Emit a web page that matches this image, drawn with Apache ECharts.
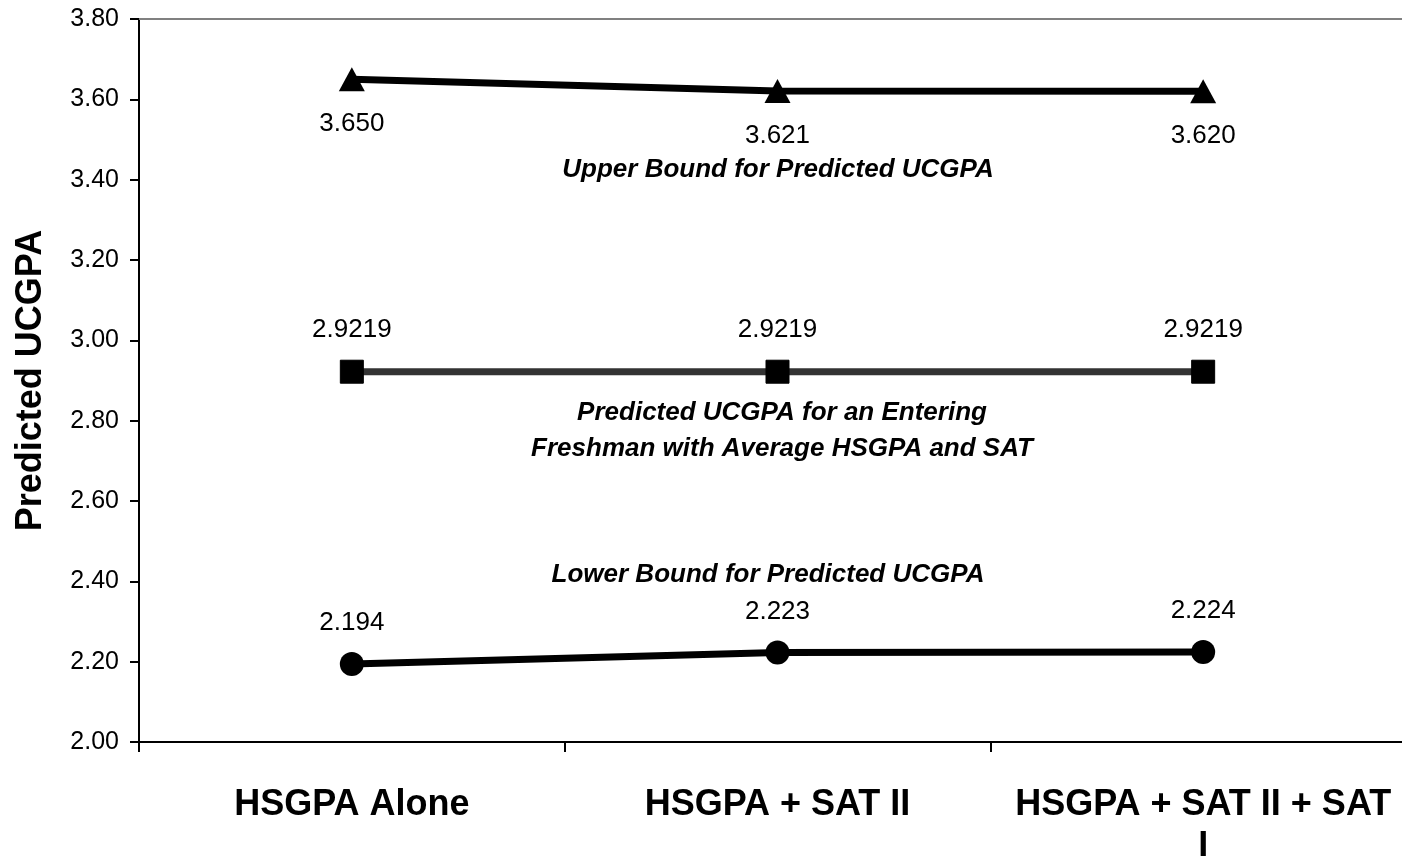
<!DOCTYPE html>
<html>
<head>
<meta charset="utf-8">
<script src="https://cdn.jsdelivr.net/npm/echarts@6/dist/echarts.min.js"></script>
<style>
html,body{margin:0;padding:0;background:#fff;}
#chart{width:1402px;height:856px;}
</style>
</head>
<body>
<div id="chart"></div>
<script>
var categories = ['HSGPA Alone', 'HSGPA + SAT II', 'HSGPA + SAT II + SAT\nI'];
var upperBound = [3.650, 3.621, 3.620];
var predicted = [2.9219, 2.9219, 2.9219];
var lowerBound = [2.194, 2.223, 2.224];
var upperLabels = ['3.650', '3.621', '3.620'];
var predictedLabels = ['2.9219', '2.9219', '2.9219'];
var lowerLabels = ['2.194', '2.223', '2.224'];
var yTicks = { min: 2.0, max: 3.8, interval: 0.2 };

var FONT = "'Liberation Sans', Arial, sans-serif";
var chart = echarts.init(document.getElementById('chart'));

function labelFmt(arr) {
  return function (p) { return arr[p.dataIndex]; };
}

var annoStyle = { fontFamily: FONT, fontSize: 26, fontWeight: 'bold', fontStyle: 'italic', fill: '#000', align: 'center', verticalAlign: 'middle' };

chart.setOption({
  animation: false,
  backgroundColor: '#fff',
  grid: { left: 139, top: 19, width: 1277, height: 723, containLabel: false, outerBoundsMode: 'none' },
  xAxis: [{
    type: 'category',
    data: categories,
    boundaryGap: true,
    axisLine: { lineStyle: { color: '#000', width: 2 } },
    axisTick: { show: true, length: 10, lineStyle: { color: '#000', width: 2 } },
    axisLabel: { interval: 0, hideOverlap: false, fontFamily: FONT, fontSize: 36, fontWeight: 'bold', color: '#000', margin: 42, lineHeight: 42 },
    splitLine: { show: false }
  }, {
    type: 'category',
    position: 'top',
    data: categories,
    axisLine: { lineStyle: { color: '#808080', width: 2 } },
    axisTick: { show: false },
    axisLabel: { show: false },
    splitLine: { show: false }
  }],
  yAxis: {
    type: 'value',
    min: yTicks.min,
    max: yTicks.max,
    interval: yTicks.interval,
    name: 'Predicted UCGPA',
    nameLocation: 'middle',
    nameGap: 90,
    nameTextStyle: { fontFamily: FONT, fontSize: 36, fontWeight: 'bold', color: '#000' },
    axisLine: { show: true, lineStyle: { color: '#000', width: 2 } },
    axisTick: { show: true, length: 9, lineStyle: { color: '#000', width: 2 } },
    axisLabel: { fontFamily: FONT, fontSize: 25, color: '#000', margin: 20, formatter: function (v) { return v.toFixed(2); } },
    splitLine: { show: false }
  },
  series: [{
    name: 'Upper Bound',
    type: 'line',
    data: upperBound,
    symbol: 'triangle',
    symbolSize: [26, 24],
    lineStyle: { color: '#000', width: 7 },
    itemStyle: { color: '#000' },
    label: { show: true, position: 'bottom', distance: 20, formatter: labelFmt(upperLabels), fontFamily: FONT, fontSize: 26, color: '#000' }
  }, {
    name: 'Predicted',
    type: 'line',
    data: predicted,
    symbol: 'rect',
    symbolSize: 23,
    lineStyle: { color: '#333333', width: 7 },
    itemStyle: { color: '#000', borderColor: '#000', borderWidth: 1 },
    label: { show: true, position: 'top', distance: 17, formatter: labelFmt(predictedLabels), fontFamily: FONT, fontSize: 26, color: '#000' }
  }, {
    name: 'Lower Bound',
    type: 'line',
    data: lowerBound,
    symbol: 'circle',
    symbolSize: 24,
    lineStyle: { color: '#000', width: 7 },
    itemStyle: { color: '#000' },
    label: { show: true, position: 'top', distance: 16, formatter: labelFmt(lowerLabels), fontFamily: FONT, fontSize: 26, color: '#000' }
  }],
  graphic: [
    { type: 'text', x: 778, y: 170, style: Object.assign({ text: 'Upper Bound for Predicted UCGPA' }, annoStyle) },
    { type: 'text', x: 782, y: 431, style: Object.assign({ text: 'Predicted UCGPA for an Entering\nFreshman with Average HSGPA and SAT', lineHeight: 36 }, annoStyle) },
    { type: 'text', x: 768, y: 575, style: Object.assign({ text: 'Lower Bound for Predicted UCGPA' }, annoStyle) }
  ]
});
</script>
</body>
</html>
